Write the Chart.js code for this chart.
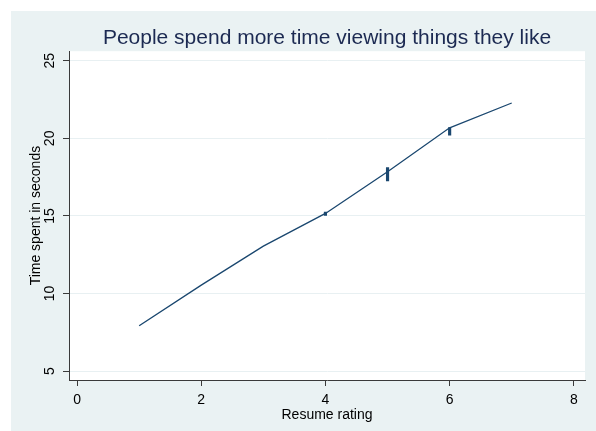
<!DOCTYPE html>
<html>
<head>
<meta charset="utf-8">
<script src="https://cdn.jsdelivr.net/npm/chart.js@4/dist/chart.umd.min.js"></script>
<style>
  html, body { margin: 0; padding: 0; background: #ffffff; }
  #frame { position: absolute; left: 11px; top: 11px; width: 585px; height: 420px; background: #eaf2f3; }
  canvas { display: block; }
</style>
</head>
<body>
<div id="frame"><canvas id="chart" width="585" height="420"></canvas></div>
<script>
// Mean viewing time by resume rating
const ratings = [1, 2, 3, 4, 5, 6, 7];
const meanSeconds = [7.92, 10.54, 13.05, 15.16, 17.85, 20.68, 22.28];

// Interval spikes shown at ratings 4-6
const spikeRatings = [4, 5, 6];
const spikeLow = [15.03, 17.25, 20.20];
const spikeHigh = [15.24, 18.12, 20.69];

// Axis ticks
const xTicks = [0, 2, 4, 6, 8];
const yTicks = [5, 10, 15, 20, 25];

const NAVY = '#1a476f';
const AXIS = '#3a3a3a';
const FONT = "'Liberation Sans', Arial, sans-serif";

const plotBackground = {
  id: 'plotBackground',
  beforeDraw(chart) {
    const { ctx, chartArea: a } = chart;
    ctx.save();
    ctx.fillStyle = '#ffffff';
    ctx.fillRect(a.left, a.top, a.right - a.left, a.bottom - a.top);
    ctx.restore();
  }
};

new Chart(document.getElementById('chart'), {
  type: 'line',
  data: {
    datasets: [
      {
        type: 'bar',
        data: spikeRatings.map((x, i) => ({ x: x, y: [spikeLow[i], spikeHigh[i]] })),
        backgroundColor: NAVY,
        borderWidth: 0,
        barThickness: 2.5,
        order: 0
      },
      {
        type: 'line',
        data: ratings.map((x, i) => ({ x: x, y: meanSeconds[i] })),
        borderColor: NAVY,
        borderWidth: 1.3,
        pointRadius: 0,
        tension: 0,
        fill: false,
        order: 1
      }
    ]
  },
  options: {
    responsive: false,
    devicePixelRatio: 1,
    animation: false,
    layout: { padding: { left: 0, top: 0, right: 11, bottom: 0 } },
    plugins: {
      legend: { display: false },
      tooltip: { enabled: false },
      title: {
        display: true,
        fullSize: false,
        text: 'People spend more time viewing things they like',
        color: '#1c2a52',
        font: { family: FONT, size: 21, weight: 'normal' },
        padding: { top: 15, bottom: 0 }
      }
    },
    scales: {
      x: {
        type: 'linear',
        offset: false,
        min: -0.13,
        max: 8.18,
        afterBuildTicks(scale) { scale.ticks = xTicks.map(v => ({ value: v })); },
        afterFit(scale) { scale.height = 51; },
        grid: { drawOnChartArea: false, offset: false, tickLength: 6, tickColor: AXIS },
        border: { display: true, color: AXIS, width: 1 },
        ticks: { color: '#000', font: { family: FONT, size: 14 }, padding: 6, maxRotation: 0 },
        title: {
          display: true,
          text: 'Resume rating',
          color: '#000',
          font: { family: FONT, size: 14 },
          padding: { top: 0, bottom: 7 }
        }
      },
      y: {
        type: 'linear',
        min: 4.42,
        max: 25.62,
        afterBuildTicks(scale) { scale.ticks = yTicks.map(v => ({ value: v })); },
        afterFit(scale) { scale.width = 58; },
        grid: { color: '#e8f0f2', lineWidth: 1, tickLength: 6, tickColor: AXIS },
        border: { display: true, color: AXIS, width: 1 },
        ticks: {
          color: '#000',
          font: { family: FONT, size: 14 },
          minRotation: 90,
          maxRotation: 90,
          crossAlign: 'center',
          padding: 5
        },
        title: {
          display: true,
          text: 'Time spent in seconds',
          color: '#000',
          font: { family: FONT, size: 14 },
          padding: { top: 17, bottom: 0 }
        }
      }
    }
  },
  plugins: [plotBackground]
});
</script>
</body>
</html>
